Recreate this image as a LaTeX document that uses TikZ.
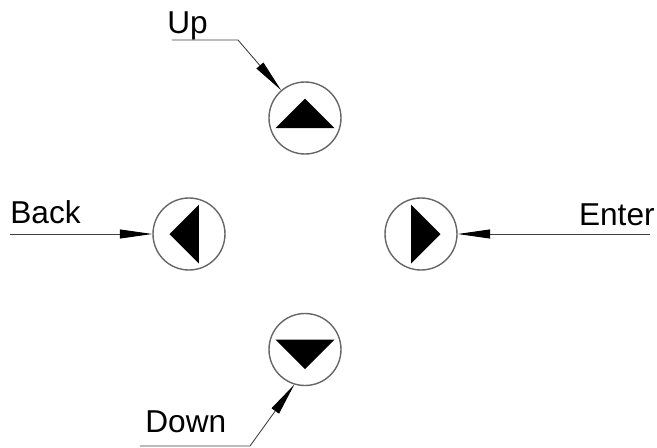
\documentclass[tikz,border=0pt]{standalone}
\usepackage{fontspec}
\setmainfont{Liberation Sans}
\usetikzlibrary{arrows.meta}
\begin{document}
\begin{tikzpicture}[
    btn/.style={circle,draw=black!60,line width=0.8pt,minimum size=1.44cm,inner sep=0pt},
    lead/.style={draw=black!75,line width=0.5pt,-{Triangle[length=6.5mm,width=1.8mm,color=black]}},
    lbl/.style={inner sep=0pt,font=\fontsize{18}{22}\selectfont}]
    \useasboundingbox (-6.1,-4.26) rectangle (7.04,4.68);
    \node[btn] (up) at (0,2.32) {};
    \node[btn] (down) at (0,-2.31) {};
    \node[btn] (back) at (-2.32,0) {};
    \node[btn] (enter) at (2.32,0) {};
    \foreach \n/\a in {up/0,back/90,down/180,enter/270}
    \fill[shift={(\n)},rotate=\a] (-0.59,-0.2) -- (0.59,-0.2) -- (0,0.39) -- cycle;
    \coordinate (upA) at (-2.66,3.88);
    \coordinate (upB) at (-1.34,3.88);
    \coordinate (backA) at (-5.9,0);
    \coordinate (enterA) at (6.9,0);
    \coordinate (downA) at (-3.3,-4.24);
    \coordinate (downB) at (-1.1,-4.24);
    \node[lbl,anchor=base west] (uptxt) at (-2.76,4.02) {Up};
    \node[lbl,anchor=base west] (backtxt) at (-5.9,0.22) {Back};
    \node[lbl,anchor=base east] (entertxt) at (7.0,0.18) {Enter};
    \node[lbl,anchor=base west] (downtxt) at (-3.2,-3.96) {Down};
    \draw[lead] (upA) -- (upB) -- (up);
    \draw[lead] (backA) -- (back);
    \draw[lead] (enterA) -- (enter);
    \draw[lead] (downA) -- (downB) -- (down.253);
\end{tikzpicture}
\end{document}
